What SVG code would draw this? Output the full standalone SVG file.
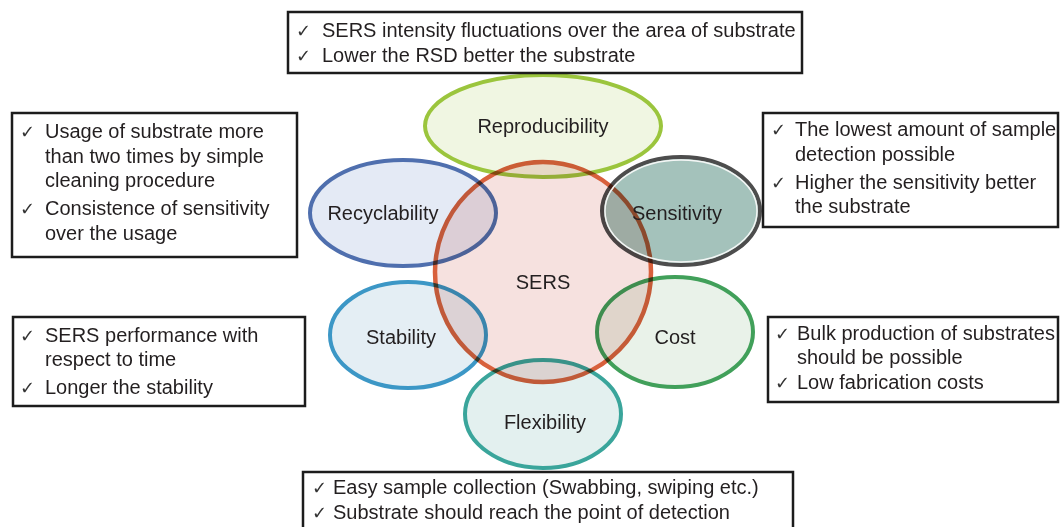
<svg xmlns="http://www.w3.org/2000/svg" width="1060" height="527" viewBox="0 0 1060 527">
<style>
.t{font-family:"Liberation Sans",Arial,sans-serif;font-size:20px;fill:#231f20}
.c{font-family:"DejaVu Sans",sans-serif;font-size:18px;fill:#333}
.lbl{font-family:"Liberation Sans",Arial,sans-serif;font-size:20px;fill:#231f20;text-anchor:middle}
.box{fill:#fff;stroke:#1c1c1c;stroke-width:2.5}
.el{stroke-width:4;mix-blend-mode:multiply}
</style>
<rect width="1060" height="527" fill="#fff"/>
<g id="connectors"/>
<g id="sers"><ellipse cx="543" cy="272" rx="108" ry="110" fill="#f6e1df" stroke="#d8603c" stroke-width="4.5"/></g>
<g id="reproducibility"><ellipse class="el" cx="543" cy="126" rx="118" ry="51" fill="#f0f6e2" stroke="#9bc53d"/><text class="lbl" x="543" y="133">Reproducibility</text></g>
<g id="recyclability"><ellipse class="el" cx="403" cy="213" rx="93" ry="53" fill="#e4eaf5" stroke="#4f6fae"/><text class="lbl" x="383" y="220">Recyclability</text></g>
<g id="sensitivity"><ellipse class="el" cx="681" cy="211" rx="79" ry="54" fill="#a4c2bb" stroke="#4d4d4d" stroke-width="5"/><ellipse cx="681" cy="211" rx="76" ry="51" fill="none" stroke="#f4f6f5" stroke-width="1.5"/><text class="lbl" x="677" y="220">Sensitivity</text></g>
<g id="stability"><ellipse class="el" cx="408" cy="335" rx="78" ry="53" fill="#e4eef4" stroke="#3c97c6"/><text class="lbl" x="401" y="344">Stability</text></g>
<g id="cost"><ellipse class="el" cx="675" cy="332" rx="78" ry="55" fill="#e9f2e9" stroke="#41a05a"/><text class="lbl" x="675" y="344">Cost</text></g>
<g id="flexibility"><ellipse class="el" cx="543" cy="414" rx="78" ry="54" fill="#e3f0ef" stroke="#3aa59b"/><text class="lbl" x="545" y="429">Flexibility</text></g>
<g id="sers-label"><text class="lbl" x="543" y="289">SERS</text></g>
<g id="box-reproducibility">
<rect class="box" x="288" y="12" width="514" height="61"/>
<text class="c" x="296" y="37">✓</text><text class="t" x="322" y="37">SERS intensity fluctuations over the area of substrate</text>
<text class="c" x="296" y="62">✓</text><text class="t" x="322" y="62">Lower the RSD better the substrate</text>
</g>
<g id="box-recyclability">
<rect class="box" x="12" y="113" width="285" height="144"/>
<text class="c" x="20" y="138">✓</text><text class="t" x="45" y="138">Usage of substrate more</text>
<text class="t" x="45" y="163">than two times by simple</text>
<text class="t" x="45" y="187">cleaning procedure</text>
<text class="c" x="20" y="215">✓</text><text class="t" x="45" y="215">Consistence of sensitivity</text>
<text class="t" x="45" y="240">over the usage</text>
</g>
<g id="box-sensitivity">
<rect class="box" x="763" y="113" width="295" height="114"/>
<text class="c" x="771" y="136">✓</text><text class="t" x="795" y="136">The lowest amount of sample</text>
<text class="t" x="795" y="161">detection possible</text>
<text class="c" x="771" y="189">✓</text><text class="t" x="795" y="189">Higher the sensitivity better</text>
<text class="t" x="795" y="213">the substrate</text>
</g>
<g id="box-stability">
<rect class="box" x="13" y="317" width="292" height="89"/>
<text class="c" x="20" y="342">✓</text><text class="t" x="45" y="342">SERS performance with</text>
<text class="t" x="45" y="366">respect to time</text>
<text class="c" x="20" y="394">✓</text><text class="t" x="45" y="394">Longer the stability</text>
</g>
<g id="box-cost">
<rect class="box" x="768" y="317" width="290" height="85"/>
<text class="c" x="775" y="340">✓</text><text class="t" x="797" y="340">Bulk production of substrates</text>
<text class="t" x="797" y="364">should be possible</text>
<text class="c" x="775" y="389">✓</text><text class="t" x="797" y="389">Low fabrication costs</text>
</g>
<g id="box-flexibility">
<rect class="box" x="303" y="472" width="490" height="70"/>
<text class="c" x="312" y="494">✓</text><text class="t" x="333" y="494">Easy sample collection (Swabbing, swiping etc.)</text>
<text class="c" x="312" y="519">✓</text><text class="t" x="333" y="519">Substrate should reach the point of detection</text>
</g>
</svg>
